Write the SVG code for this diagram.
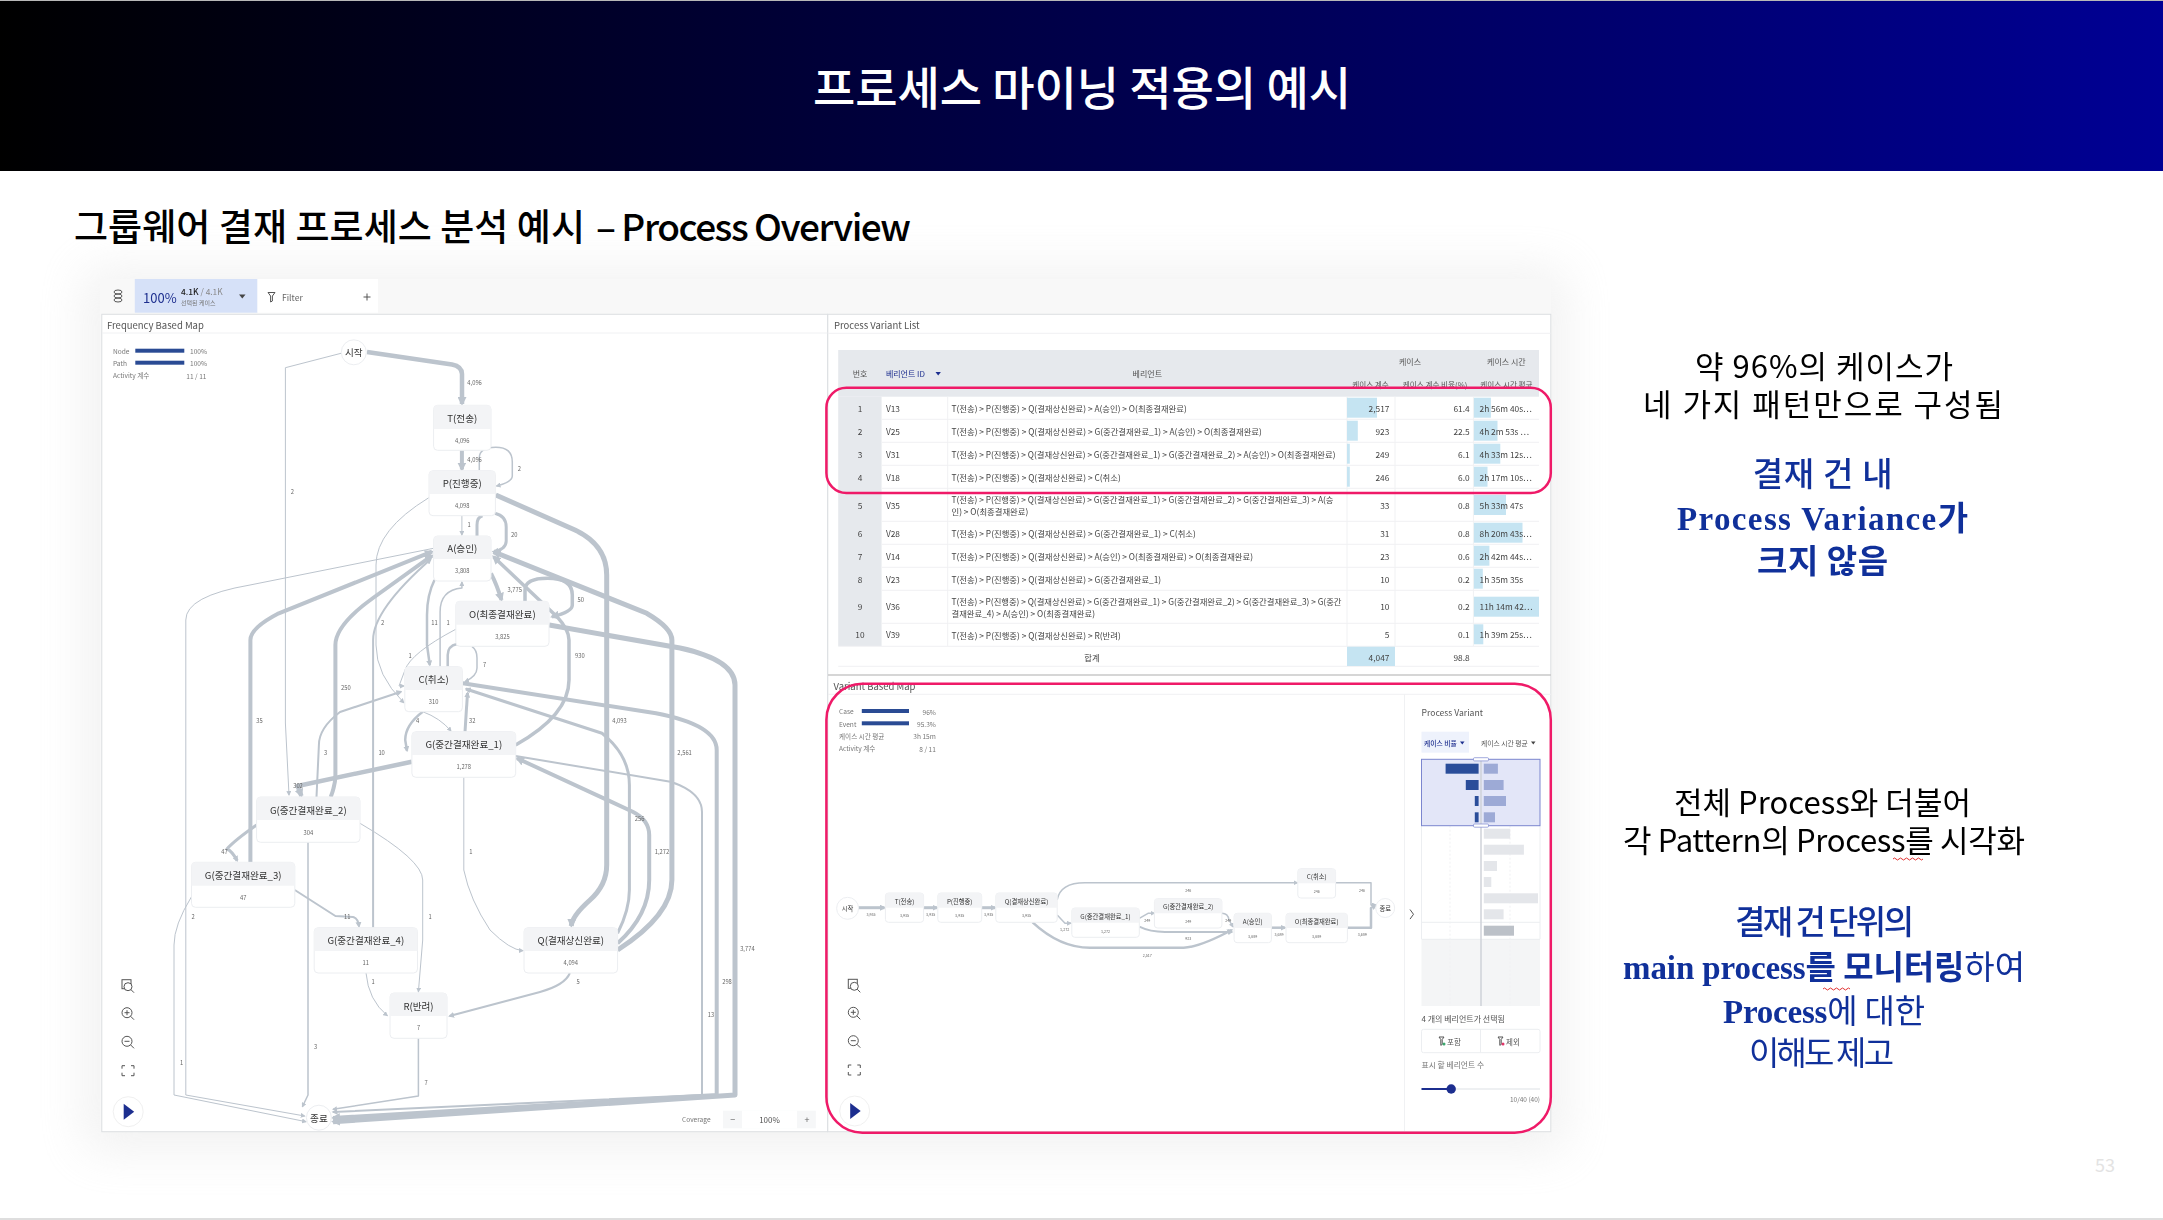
<svg xmlns="http://www.w3.org/2000/svg" width="2163" height="1220" viewBox="0 0 2163 1220">
<style>
text{font-family:"Noto Sans CJK KR","Noto Sans",sans-serif}
.c{dominant-baseline:central}
.m{text-anchor:middle}
.r{text-anchor:end}
.e path{fill:none;stroke:#bcc4cd;stroke-linejoin:round}
.w1{stroke-width:1}.w15{stroke-width:1.5}.w2{stroke-width:2}.w25{stroke-width:2.5}.w3{stroke-width:3}.w35{stroke-width:3.5}.w4{stroke-width:4}.w45{stroke-width:4.5}.w5{stroke-width:5}
.as{marker-end:url(#as)}.am{marker-end:url(#am)}.al{marker-end:url(#al)}
.nb{fill:#fff;stroke:#eceef1;stroke-width:1}
.nh{fill:#f3f4f6}
.nl{font-size:9.6px;fill:#333}
.nc{font-size:5.8px;fill:#666}
.el{font-size:5.8px;fill:#666}
.vl{font-size:6.3px;fill:#333}
.vc{font-size:3.7px;fill:#666}
.lg{font-size:6.6px;fill:#777}
.th{font-size:8px;fill:#555}
.td{font-size:8.35px;fill:#444}
.bar{fill:#c5e4f2}
.sep{stroke:#f0f1f3;stroke-width:1}
.pink{fill:none;stroke:#ef1a68;stroke-width:2.5}
.ic{fill:none;stroke:#555;stroke-width:1}
.blk{font-size:31px;fill:#000}
.blu{font-size:33px;fill:#10309a}
.ser{font-family:"Liberation Serif","Noto Serif",serif;font-weight:700}
.wavy{fill:none;stroke:#e03030;stroke-width:1}
.lb{fill:#2a4d9a}.rb{fill:#9daad6}.gb{fill:#e4e6ea}
.pt{font-size:9.5px;fill:#555}
</style>
<defs>
<linearGradient id="hdr" x1="0" x2="1" y1="0" y2="0"><stop offset="0" stop-color="#000"/><stop offset="1" stop-color="#000094"/></linearGradient>
<filter id="soft" filterUnits="userSpaceOnUse" x="0" y="0" width="2163" height="1220"><feGaussianBlur stdDeviation="0.4"/></filter>
<filter id="glow" filterUnits="userSpaceOnUse" x="0" y="150" width="2163" height="1070"><feGaussianBlur stdDeviation="24"/></filter>
<marker id="as" markerUnits="userSpaceOnUse" markerWidth="5" markerHeight="5" refX="4" refY="2.5" orient="auto"><path d="M0,0L5,2.5L0,5z" fill="#bcc4cd"/></marker>
<marker id="am" markerUnits="userSpaceOnUse" markerWidth="6" markerHeight="6" refX="4.5" refY="3" orient="auto"><path d="M0,0L6,3L0,6z" fill="#bcc4cd"/></marker>
<marker id="al" markerUnits="userSpaceOnUse" markerWidth="9" markerHeight="9" refX="7" refY="4.5" orient="auto"><path d="M0,0L9,4.5L0,9z" fill="#bcc4cd"/></marker>
<g id="i-fit"><rect class="ic" x="-6" y="-6" width="9" height="9"/><circle cx="0" cy="1" r="4" fill="#fff" stroke="#555"/><path class="ic" d="M3,4L6,7"/></g>
<g id="i-in"><circle class="ic" cx="-1" cy="-1" r="5"/><path class="ic" d="M-3.5,-1H1.5M-1,-3.5V1.5M2.5,2.5L6,6"/></g>
<g id="i-out"><circle class="ic" cx="-1" cy="-1" r="5"/><path class="ic" d="M-3.5,-1H1.5M2.5,2.5L6,6"/></g>
<g id="i-full"><path class="ic" d="M-6,-2V-5H-3M3,-5H6V-2M6,2V5H3M-3,5H-6V2"/></g>
<g id="i-play"><circle r="15" fill="#fff" stroke="#f0f0f0"/><path d="M-4.5,-8L6,0L-4.5,8z" fill="#1e2f8f"/></g>
</defs>

<rect width="2163" height="1220" fill="#fff"/>
<rect x="0" y="0" width="2163" height="171" fill="url(#hdr)"/>
<rect x="0" y="0" width="2163" height="1" fill="#b8b8b8"/>
<rect x="0" y="1218" width="2163" height="2" fill="#dedede"/>
<rect x="85" y="270" width="1480" height="880" fill="#d8d8d8" opacity=".35" filter="url(#glow)"/>

<text id="title" x="813" y="105" font-size="46" font-weight="500" fill="#fff" textLength="538">프로세스 마이닝 적용의 예시</text>
<g id="subtitle">
<text x="74" y="241" font-size="37" font-weight="500" fill="#000" textLength="511">그룹웨어 결재 프로세스 분석 예시</text>
<text x="596" y="241" font-size="37" font-weight="500" fill="#000" textLength="314" letter-spacing="-1">– Process Overview</text>
</g>
<text id="page" x="2095" y="1172" font-size="18" fill="#e3e3e3" font-family="Liberation Sans">53</text>

<g id="screenshot" filter="url(#soft)">
<rect x="100" y="279" width="1451" height="853" fill="#f8f8f8"/>
<rect x="134.8" y="279" width="122.7" height="33.7" fill="#d6e1f8"/>
<rect x="257.5" y="279" width="120.5" height="33.7" fill="#fff"/>
<rect x="101.8" y="314.3" width="725.8" height="817.4" fill="#fff" stroke="#dcdfe2"/>
<rect x="827.8" y="314.3" width="723" height="817.4" fill="#fff" stroke="#dcdfe2"/>
<path d="M102,333H827.5M828,333.3H1550.5" stroke="#f0f1f3"/>
<path d="M828,675H1551" stroke="#c8c8c8" stroke-width="1.5"/>

<g id="toolbar">
<g class="ic"><ellipse cx="118" cy="292" rx="4" ry="2"/><ellipse cx="118" cy="296" rx="4" ry="2"/><ellipse cx="118" cy="300" rx="4" ry="2"/></g>
<text class="c" x="143" y="297" font-size="13" fill="#1e2f8f">100%</text>
<text class="c" x="181" y="291" font-size="8.4" fill="#222" font-weight="500">4.1K<tspan fill="#888" font-weight="400"> / 4.1K</tspan></text>
<text class="c" x="181" y="302" font-size="6" fill="#777">선택된 케이스</text>
<path d="M239,294.5h6.5l-3.2,4z" fill="#444"/>
<path class="ic" d="M268,292.5h7l-2.6,3.5v5l-1.8,1v-6z"/>
<text class="c" x="282" y="297" font-size="8.6" fill="#666">Filter</text>
<path class="ic" d="M363.500,297h7M367,293.500v7"/>
</g>

<text class="c pt" x="107" y="325">Frequency Based Map</text>
<g id="legend-freq">
<text class="c lg" x="113" y="350.700">Node</text><rect x="135.300" y="348.700" width="49" height="4" fill="#2c4c94"/><text class="c lg" x="190" y="351">100%</text>
<text class="c lg" x="113" y="362.700">Path</text><rect x="135.300" y="360.700" width="49" height="4" fill="#2c4c94"/><text class="c lg" x="190" y="363">100%</text>
<text class="c lg" x="113" y="375">Activity 계수</text><text class="c lg" x="186.300" y="376">11 / 11</text>
</g>

<g id="connectors-freq" class="e">
<path class="w45 al" d="M367,352 L452,364.500 Q462,366.500 462,374 V404"/>
<path class="w1 as" d="M341,353.300 L285.400,367.700 V723 L289,795"/>
<path class="w4 al" d="M461.900,450.300 V469.500"/>
<path class="w15 as" d="M479.300,470 V458 Q479.300,447.300 495.800,447.300 Q512.300,447.300 512.300,462 V476 Q512.300,482 496.500,486"/>
<path class="w1 as" d="M461.900,515.700 V535"/>
<path class="w3" d="M477,536 V525 Q477,517 482.600,515.700"/>
<path class="w3 am" d="M494.900,513.300 Q506.200,516 506.200,527 V541 Q506.200,549 494,551.700"/>
<path class="w5 al" d="M495.800,495 L575,530 Q606.700,545 606.700,575 V865 Q606.700,885 590,900 Q572,916 571.300,926"/>
<path class="w1 as" d="M428.800,497.700 Q376,530 376,565 V645 Q376,675 403.800,702.700"/>
<path class="w2 am" d="M373.100,927.700 V640 Q373.100,610 430.700,559.300"/>
<path class="w1 as" d="M433.500,548.300 L250,585 Q185.800,596 185.800,620 V1095 L304.700,1116"/>
<path class="w1 as" d="M191.500,896.700 Q174,925 174,945 V1095 L306,1121.700"/>
<path class="w4 al" d="M250.400,862.300 V640 Q250.400,628 278.800,613.300 L432,551.700"/>
<path class="w4 al" d="M330.700,797 Q335.400,785 335.400,775 V645 Q335.400,625 373,598 L432,555.700"/>
<path class="w2 am" d="M316.500,797 L318.900,745 Q318.900,728 340,712 L401,691.700"/>
<path class="w1 as" d="M455.700,629.300 Q410.900,653 405,670 L399,686 L404,686"/>
<path class="w25 am" d="M434.500,580 Q427,595 427,615 V645 L429.800,665"/>
<path class="w15 as" d="M440.100,666.700 V612 Q440.100,590 461.900,588 V582"/>
<path class="w4 al" d="M491,573.300 Q497,585 501.500,600"/>
<path class="w35 al" d="M525,601.300 V590 Q525,578.300 547.700,578.300 Q572.300,578.300 572.300,595 V605 Q572.300,612 552,616.700"/>
<path class="w35 al" d="M515.600,745 Q569,715 569,680 V640 Q569,630 557,616.700 L493.500,556.700"/>
<path class="w5 al" d="M617.600,950 Q671.900,915 671.900,880 V640 Q671.900,628 646.800,613.300 L493.500,551.700"/>
<path class="w5 al" d="M549.200,625 L680,648 Q735,660 735,685 V1095 L333,1121.700"/>
<path class="w4 al" d="M462.800,683.300 L656,713.300 Q716.700,725 716.700,750 V1095 L333,1118"/>
<path class="w2 am" d="M515.600,756 L670.400,781.700 Q702,792 702,812 V1095 L333,1112"/>
<path class="w3 am" d="M617.600,933.300 Q629.400,910 629.400,890 V785 Q629.400,755 602,733.300 L466,689"/>
<path class="w4 al" d="M617.600,943.300 Q649.200,915 649.200,880 V835 Q649.200,820 632.700,811.700 L517,758.300"/>
<path class="w25 am" d="M422.700,711.700 Q405.200,725 405.200,740 L407,750.700"/>
<path class="w1 as" d="M422.700,711.700 Q440,718 451,731"/>
<path class="w3 am" d="M465,731.700 L467.500,693"/>
<path class="w45 al" d="M411.800,761.700 L297.600,786 L301.400,796"/>
<path class="w3 am" d="M256.600,825 Q235,840 226.900,849 Q232,851 237.200,860.700"/>
<path class="w2 am" d="M294.800,890 L335.400,916 L353,917 Q358,918 359,926.500"/>
<path class="w1 as" d="M360,823.300 Q422.700,860 422.700,880 V940 L418.400,991.700"/>
<path class="w1 as" d="M366,973 Q368.400,1000 387.300,1015.700"/>
<path class="w2 am" d="M569.900,973 Q565,985 540,992 L449.600,1016"/>
<path class="w15 as" d="M418.400,1038.300 V1096 L333,1109.300"/>
<path class="w15 as" d="M308,842.300 V1095 L302.400,1106.700"/>
<path class="w1 as" d="M463.800,777.300 V870 Q470,900 490,930 Q510,950 523,950.700"/>
<path class="w25" d="M447.700,666.700 V655 Q447.700,646 457,644"/>
<path class="w15 as" d="M472,646.700 Q477,650 477,658 V668 Q477,676 465,681.700"/>
</g>

<g id="edge-labels-freq" class="m">
<text class="c el m" x="474.600" y="382.300">4,096</text><text class="c el m" x="292.400" y="491.700">2</text>
<text class="c el m" x="474.600" y="459">4,096</text><text class="c el m" x="519.400" y="468.700">2</text>
<text class="c el m" x="469" y="524.300">1</text><text class="c el m" x="514.200" y="534.300">20</text>
<text class="c el m" x="514.700" y="589.700">3,775</text><text class="c el m" x="580.800" y="599.300">50</text>
<text class="c el m" x="382.600" y="622.700">2</text><text class="c el m" x="434.500" y="622.700">11</text><text class="c el m" x="448.200" y="622.700">1</text>
<text class="c el m" x="410" y="655">1</text><text class="c el m" x="579.800" y="655">930</text><text class="c el m" x="484.500" y="664.700">7</text>
<text class="c el m" x="345.800" y="687.700">250</text><text class="c el m" x="259.500" y="720.300">35</text>
<text class="c el m" x="417.500" y="720.300">4</text><text class="c el m" x="472.200" y="720.300">32</text><text class="c el m" x="619.500" y="720.300">4,093</text>
<text class="c el m" x="325.500" y="752.700">3</text><text class="c el m" x="381.600" y="752.700">10</text><text class="c el m" x="684.600" y="752.700">2,561</text>
<text class="c el m" x="298" y="785.700">302</text><text class="c el m" x="639.700" y="818">256</text>
<text class="c el m" x="224.500" y="851">47</text><text class="c el m" x="470.800" y="851">1</text><text class="c el m" x="662" y="851">1,272</text>
<text class="c el m" x="193" y="916.300">2</text><text class="c el m" x="347.200" y="916.700">11</text><text class="c el m" x="430.200" y="916.300">1</text>
<text class="c el m" x="747.400" y="948.700">3,774</text><text class="c el m" x="373" y="981.700">1</text><text class="c el m" x="578" y="981.700">5</text><text class="c el m" x="727" y="981.700">298</text>
<text class="c el m" x="711" y="1014">13</text><text class="c el m" x="315.600" y="1046.700">3</text><text class="c el m" x="426" y="1082.300">7</text><text class="c el m" x="181.600" y="1062.700">1</text>
</g>

<g id="n-start"><circle class="nb" cx="353.800" cy="352.300" r="12.500"/><text class="c nl m" x="353.800" y="352.300">시작</text></g>
<g id="n-T"><rect class="nb" x="433.600" y="405.300" width="57.400" height="45" rx="4"/><path class="nh" d="M433.600,429V409.300Q433.600,405.300 437.600,405.300H487Q491,405.300 491,409.300V429Z"/><text class="c nl m" x="462.300" y="417.700">T(전송)</text><text class="c nc m" x="462.300" y="440">4,096</text></g>
<g id="n-P"><rect class="nb" x="429" y="470.700" width="66.400" height="45" rx="4"/><path class="nh" d="M429,494V474.700Q429,470.700 433,470.700H491.400Q495.400,470.700 495.400,474.700V494Z"/><text class="c nl m" x="462.200" y="483">P(진행중)</text><text class="c nc m" x="462.200" y="505.300">4,098</text></g>
<g id="n-A"><rect class="nb" x="433.600" y="536" width="57.400" height="45" rx="4"/><path class="nh" d="M433.600,559V540Q433.600,536 437.600,536H487Q491,536 491,540V559Z"/><text class="c nl m" x="462.300" y="548.300">A(승인)</text><text class="c nc m" x="462.300" y="570.700">3,808</text></g>
<g id="n-O"><rect class="nb" x="455.800" y="601.300" width="93.200" height="45" rx="4"/><path class="nh" d="M455.800,624.700V605.300Q455.800,601.300 459.800,601.300H545Q549,601.300 549,605.300V624.700Z"/><text class="c nl m" x="502.400" y="613.700">O(최종결재완료)</text><text class="c nc m" x="502.400" y="636">3,825</text></g>
<g id="n-C"><rect class="nb" x="404.800" y="666.700" width="57.600" height="45" rx="4"/><path class="nh" d="M404.800,690V670.700Q404.800,666.700 408.800,666.700H458.400Q462.400,666.700 462.400,670.700V690Z"/><text class="c nl m" x="433.600" y="679">C(취소)</text><text class="c nc m" x="433.600" y="701.300">310</text></g>
<g id="n-G1"><rect class="nb" x="411.900" y="731.700" width="103.800" height="45.600" rx="4"/><path class="nh" d="M411.900,755V735.700Q411.900,731.700 415.900,731.700H511.700Q515.700,731.700 515.700,735.700V755Z"/><text class="c nl m" x="463.800" y="744.300">G(중간결재완료_1)</text><text class="c nc m" x="463.800" y="766.700">1,278</text></g>
<g id="n-G2"><rect class="nb" x="256.600" y="797" width="103.400" height="45.300" rx="4"/><path class="nh" d="M256.600,820V801Q256.600,797 260.600,797H356Q360,797 360,801V820Z"/><text class="c nl m" x="308.300" y="809.700">G(중간결재완료_2)</text><text class="c nc m" x="308.300" y="832">304</text></g>
<g id="n-G3"><rect class="nb" x="191.500" y="862.300" width="103.300" height="45" rx="4"/><path class="nh" d="M191.500,885.700V866.300Q191.500,862.300 195.500,862.300H290.800Q294.800,862.300 294.800,866.300V885.700Z"/><text class="c nl m" x="243.200" y="875">G(중간결재완료_3)</text><text class="c nc m" x="243.200" y="897">47</text></g>
<g id="n-G4"><rect class="nb" x="314.200" y="927.700" width="103.300" height="45.300" rx="4"/><path class="nh" d="M314.200,951V931.700Q314.200,927.700 318.200,927.700H413.500Q417.500,927.700 417.500,931.700V951Z"/><text class="c nl m" x="365.800" y="940.300">G(중간결재완료_4)</text><text class="c nc m" x="365.800" y="962.700">11</text></g>
<g id="n-Q"><rect class="nb" x="524" y="927.700" width="93.600" height="45.300" rx="4"/><path class="nh" d="M524,951V931.700Q524,927.700 528,927.700H613.600Q617.600,927.700 617.600,931.700V951Z"/><text class="c nl m" x="570.800" y="940.300">Q(결재상신완료)</text><text class="c nc m" x="570.800" y="962.700">4,094</text></g>
<g id="n-R"><rect class="nb" x="390" y="993" width="57" height="45.300" rx="4"/><path class="nh" d="M390,1016V997Q390,993 394,993H443Q447,993 447,997V1016Z"/><text class="c nl m" x="418.500" y="1005.700">R(반려)</text><text class="c nc m" x="418.500" y="1027.700">7</text></g>
<g id="n-end"><circle class="nb" cx="318.900" cy="1117.700" r="12.500"/><text class="c nl m" x="318.900" y="1117.700">종료</text></g>

<g id="tools-freq"><use href="#i-fit" x="128" y="985.700"/><use href="#i-in" x="128" y="1013.700"/><use href="#i-out" x="128" y="1042.300"/><use href="#i-full" x="128" y="1070.700"/><use href="#i-play" x="128.200" y="1111.700"/></g>
<g id="coverage">
<text class="c lg" x="682" y="1119">Coverage</text>
<rect x="723" y="1110.700" width="92.800" height="17.600" fill="#f6f7f8"/><rect x="742" y="1110.700" width="55" height="17.600" fill="#fff"/>
<text class="c m" x="732.700" y="1119" font-size="9" fill="#666">−</text>
<text class="c m" x="769.500" y="1119" font-size="8" fill="#555">100%</text>
<text class="c m" x="807" y="1119" font-size="9" fill="#666">+</text>
</g>

<text class="c pt" x="834" y="325">Process Variant List</text>
<g id="variant-table">
<rect x="838.200" y="350" width="700.800" height="46.700" fill="#e6e9ed"/>
<rect x="838.200" y="396.700" width="43.400" height="249.300" fill="#e6e9ed"/>
<path class="sep" d="M881.600,419.300H1539M881.600,442.300H1539M881.600,465.300H1539M881.600,488.300H1539M881.600,521.300H1539M881.600,544.300H1539M881.600,567.300H1539M881.600,590.300H1539M881.600,623.300H1539M838.200,646.300H1539M838.200,666.300H1539M947.700,396.700V646M1347,396.700V646M1395,396.700V646M1473.400,396.700V646"/>
<g id="table-bars">
<rect class="bar" x="1347" y="397.700" width="30" height="20"/><rect class="bar" x="1347" y="420.700" width="10.800" height="20"/><rect class="bar" x="1347" y="443.700" width="2.800" height="20"/><rect class="bar" x="1347" y="466.700" width="2.800" height="20"/>
<rect class="bar" x="1347" y="646.700" width="48" height="19.300"/>
<rect class="bar" x="1473.900" y="397.700" width="17" height="20"/><rect class="bar" x="1473.900" y="420.700" width="23.600" height="20"/><rect class="bar" x="1473.900" y="443.700" width="26.400" height="20"/><rect class="bar" x="1473.900" y="466.700" width="13.600" height="20"/>
<rect class="bar" x="1473.900" y="495" width="32.100" height="20"/><rect class="bar" x="1473.900" y="522.700" width="48.600" height="20"/><rect class="bar" x="1473.900" y="545.700" width="15.500" height="20"/><rect class="bar" x="1473.900" y="568.700" width="8.900" height="20"/><rect class="bar" x="1473.900" y="596.700" width="65.100" height="20"/><rect class="bar" x="1473.900" y="624.300" width="9.400" height="20"/>
</g>
<g id="table-head">
<text class="c th m" x="860" y="373">번호</text><text class="c th" x="885.900" y="373" style="fill:#1e2f8f">베리언트 ID</text><path d="M935.500,372h5.400l-2.700,3.500z" fill="#1e2f8f"/>
<text class="c th m" x="1147.300" y="373">베리언트</text><text class="c th m" x="1410" y="361.700">케이스</text><text class="c th m" x="1506.400" y="361.700">케이스 시간</text>
<text class="c th m" x="1370.500" y="384" font-size="7.6" style="font-size:7.6px">케이스 계수</text><text class="c th m" x="1435" y="384" style="font-size:7.6px">케이스 계수 비율(%)</text><text class="c th m" x="1506.400" y="384" style="font-size:7.6px">케이스 시간 평균</text>
</g>
<g id="table-rows">
<text class="c td m" x="860" y="407.700">1</text><text class="c td" x="885.900" y="407.700">V13</text><text class="c td" x="951.500" y="408">T(전송) &gt; P(진행중) &gt; Q(결재상신완료) &gt; A(승인) &gt; O(최종결재완료)</text><text class="c td r" x="1389.400" y="407.700">2,517</text><text class="c td r" x="1469.600" y="407.700">61.4</text><text class="c td" x="1479.500" y="407.700">2h 56m 40s⋯</text>
<text class="c td m" x="860" y="430.700">2</text><text class="c td" x="885.900" y="430.700">V25</text><text class="c td" x="951.500" y="431">T(전송) &gt; P(진행중) &gt; Q(결재상신완료) &gt; G(중간결재완료_1) &gt; A(승인) &gt; O(최종결재완료)</text><text class="c td r" x="1389.400" y="430.700">923</text><text class="c td r" x="1469.600" y="430.700">22.5</text><text class="c td" x="1479.500" y="430.700">4h 2m 53s ⋯</text>
<text class="c td m" x="860" y="453.700">3</text><text class="c td" x="885.900" y="453.700">V31</text><text class="c td" x="951.500" y="454" textLength="384">T(전송) &gt; P(진행중) &gt; Q(결재상신완료) &gt; G(중간결재완료_1) &gt; G(중간결재완료_2) &gt; A(승인) &gt; O(최종결재완료)</text><text class="c td r" x="1389.400" y="453.700">249</text><text class="c td r" x="1469.600" y="453.700">6.1</text><text class="c td" x="1479.500" y="453.700">4h 33m 12s⋯</text>
<text class="c td m" x="860" y="476.700">4</text><text class="c td" x="885.900" y="476.700">V18</text><text class="c td" x="951.500" y="477">T(전송) &gt; P(진행중) &gt; Q(결재상신완료) &gt; C(취소)</text><text class="c td r" x="1389.400" y="476.700">246</text><text class="c td r" x="1469.600" y="476.700">6.0</text><text class="c td" x="1479.500" y="476.700">2h 17m 10s⋯</text>
<text class="c td m" x="860" y="504.700">5</text><text class="c td" x="885.900" y="504.700">V35</text><text class="c td" x="951.500" y="499" textLength="382">T(전송) &gt; P(진행중) &gt; Q(결재상신완료) &gt; G(중간결재완료_1) &gt; G(중간결재완료_2) &gt; G(중간결재완료_3) &gt; A(승</text><text class="c td" x="951.500" y="511.300">인) &gt; O(최종결재완료)</text><text class="c td r" x="1389.400" y="504.700">33</text><text class="c td r" x="1469.600" y="504.700">0.8</text><text class="c td" x="1479.500" y="504.700">5h 33m 47s</text>
<text class="c td m" x="860" y="532.700">6</text><text class="c td" x="885.900" y="532.700">V28</text><text class="c td" x="951.500" y="533">T(전송) &gt; P(진행중) &gt; Q(결재상신완료) &gt; G(중간결재완료_1) &gt; C(취소)</text><text class="c td r" x="1389.400" y="532.700">31</text><text class="c td r" x="1469.600" y="532.700">0.8</text><text class="c td" x="1479.500" y="532.700">8h 20m 43s⋯</text>
<text class="c td m" x="860" y="555.700">7</text><text class="c td" x="885.900" y="555.700">V14</text><text class="c td" x="951.500" y="556">T(전송) &gt; P(진행중) &gt; Q(결재상신완료) &gt; A(승인) &gt; O(최종결재완료) &gt; O(최종결재완료)</text><text class="c td r" x="1389.400" y="555.700">23</text><text class="c td r" x="1469.600" y="555.700">0.6</text><text class="c td" x="1479.500" y="555.700">2h 42m 44s⋯</text>
<text class="c td m" x="860" y="578.700">8</text><text class="c td" x="885.900" y="578.700">V23</text><text class="c td" x="951.500" y="579">T(전송) &gt; P(진행중) &gt; Q(결재상신완료) &gt; G(중간결재완료_1)</text><text class="c td r" x="1389.400" y="578.700">10</text><text class="c td r" x="1469.600" y="578.700">0.2</text><text class="c td" x="1479.500" y="578.700">1h 35m 35s</text>
<text class="c td m" x="860" y="606.300">9</text><text class="c td" x="885.900" y="606.300">V36</text><text class="c td" x="951.500" y="601" textLength="390">T(전송) &gt; P(진행중) &gt; Q(결재상신완료) &gt; G(중간결재완료_1) &gt; G(중간결재완료_2) &gt; G(중간결재완료_3) &gt; G(중간</text><text class="c td" x="951.500" y="613">결재완료_4) &gt; A(승인) &gt; O(최종결재완료)</text><text class="c td r" x="1389.400" y="606.300">10</text><text class="c td r" x="1469.600" y="606.300">0.2</text><text class="c td" x="1479.500" y="606.300">11h 14m 42⋯</text>
<text class="c td m" x="860" y="634.300">10</text><text class="c td" x="885.900" y="634.300">V39</text><text class="c td" x="951.500" y="634.600">T(전송) &gt; P(진행중) &gt; Q(결재상신완료) &gt; R(반려)</text><text class="c td r" x="1389.400" y="634.300">5</text><text class="c td r" x="1469.600" y="634.300">0.1</text><text class="c td" x="1479.500" y="634.300">1h 39m 25s⋯</text>
<text class="c td m" x="1092" y="657.300">합계</text><text class="c td r" x="1389.400" y="657.300">4,047</text><text class="c td r" x="1469.600" y="657.300">98.8</text>
</g>
</g>

<text class="c pt" x="833.500" y="685.700">Variant Based Map</text>
<path d="M828,694.300H1551M1404.500,694.300V1131" stroke="#f0f1f3"/>
<g id="legend-var">
<text class="c lg" x="839" y="711.300">Case</text><rect x="861.800" y="709" width="47.200" height="4" fill="#2c4c94"/><text class="c lg r" x="935.900" y="712">96%</text>
<text class="c lg" x="839" y="723.700">Event</text><rect x="861.800" y="721.300" width="47.200" height="4" fill="#2c4c94"/><text class="c lg r" x="935.900" y="724.300">95.3%</text>
<text class="c lg" x="839" y="735.700">케이스 시간 평균</text><text class="c lg r" x="935.900" y="736.300">3h 15m</text>
<text class="c lg" x="839" y="748">Activity 계수</text><text class="c lg r" x="935.900" y="748.700">8 / 11</text>
</g>

<g id="connectors-var" class="e">
<path class="w3 am" d="M857,907.700H884.500"/>
<path class="w3 am" d="M923.600,907.700H937"/>
<path class="w3 am" d="M981.700,907.700H995"/>
<path class="w15 as" d="M1057.200,900 Q1060,882.700 1085,882.700 H1297.500"/>
<path class="w15 as" d="M1335.600,882.700 H1371 V905 L1376,905"/>
<path class="w15 as" d="M1057.200,915 L1065,923.300 H1071"/>
<path class="w25 am" d="M1032.600,922.300 Q1060,947.700 1090,947.700 H1183.600 Q1200,947 1231.800,930"/>
<path class="w15 as" d="M1139.300,918.300 L1148,913.300 H1154.500"/>
<path class="w2 am" d="M1139.300,926.700 Q1150,932 1165,932 H1232"/>
<path class="w15 as" d="M1221.900,913.300 Q1228,913.300 1229,920 L1233,927"/>
<path class="w25 am" d="M1271.400,927.700H1285"/>
<path class="w25 am" d="M1347.400,927.700 H1371 V908 L1376,905"/>
</g>
<g id="edge-labels-var">
<text class="c vc m" x="871" y="914.300">3,935</text><text class="c vc m" x="930.700" y="914.300">3,935</text><text class="c vc m" x="988.700" y="914.300">3,935</text><text class="c vc m" x="1064.700" y="929.300">1,272</text>
<text class="c vc m" x="1188.300" y="890">246</text><text class="c vc m" x="1362" y="890">246</text><text class="c vc m" x="1147.300" y="920">249</text><text class="c vc m" x="1228.300" y="920">249</text>
<text class="c vc m" x="1188.300" y="938.300">923</text><text class="c vc m" x="1279" y="934.700">3,689</text><text class="c vc m" x="1362.300" y="934.700">3,689</text><text class="c vc m" x="1147.300" y="955">2,517</text>
</g>
<g id="v-start"><circle class="nb" cx="847.600" cy="908.300" r="11"/><text class="c vl m" x="847.600" y="908.300">시작</text></g>
<g id="v-T"><rect class="nb" x="885.400" y="893" width="38.200" height="29.300" rx="3"/><path class="nh" d="M885.400,907.700V896Q885.400,893 888.400,893H920.600Q923.600,893 923.600,896V907.700Z"/><text class="c vl m" x="904.500" y="901">T(전송)</text><text class="c vc m" x="904.500" y="915.700">3,935</text></g>
<g id="v-P"><rect class="nb" x="937.800" y="893" width="43.900" height="29.300" rx="3"/><path class="nh" d="M937.800,907.700V896Q937.800,893 940.800,893H978.700Q981.700,893 981.700,896V907.700Z"/><text class="c vl m" x="959.700" y="901">P(진행중)</text><text class="c vc m" x="959.700" y="915.700">3,935</text></g>
<g id="v-Q"><rect class="nb" x="995.800" y="893" width="61.400" height="29.300" rx="3"/><path class="nh" d="M995.800,907.700V896Q995.800,893 998.800,893H1054.200Q1057.200,893 1057.200,896V907.700Z"/><text class="c vl m" x="1026.500" y="901">Q(결재상신완료)</text><text class="c vc m" x="1026.500" y="915.700">3,935</text></g>
<g id="v-G1"><rect class="nb" x="1071.800" y="908" width="67.500" height="29.300" rx="3"/><path class="nh" d="M1071.800,922.700V911Q1071.800,908 1074.800,908H1136.300Q1139.300,908 1139.300,911V922.700Z"/><text class="c vl m" x="1105.500" y="916">G(중간결재완료_1)</text><text class="c vc m" x="1105.500" y="931">1,272</text></g>
<g id="v-G2"><rect class="nb" x="1154.400" y="898.700" width="67.500" height="29.300" rx="3"/><path class="nh" d="M1154.400,913.300V901.700Q1154.400,898.700 1157.400,898.700H1218.900Q1221.900,898.700 1221.900,901.700V913.300Z"/><text class="c vl m" x="1188.200" y="906.700">G(중간결재완료_2)</text><text class="c vc m" x="1188.200" y="921.300">249</text></g>
<g id="v-A"><rect class="nb" x="1234.100" y="913.300" width="37.300" height="29.400" rx="3"/><path class="nh" d="M1234.100,928V916.300Q1234.100,913.300 1237.100,913.300H1268.400Q1271.400,913.300 1271.400,916.300V928Z"/><text class="c vl m" x="1252.700" y="921.300">A(승인)</text><text class="c vc m" x="1252.700" y="936">3,689</text></g>
<g id="v-O"><rect class="nb" x="1286" y="913.300" width="61.400" height="29.400" rx="3"/><path class="nh" d="M1286,928V916.300Q1286,913.300 1289,913.300H1344.400Q1347.400,913.300 1347.400,916.300V928Z"/><text class="c vl m" x="1316.700" y="921.300">O(최종결재완료)</text><text class="c vc m" x="1316.700" y="936">3,689</text></g>
<g id="v-C"><rect class="nb" x="1297.800" y="868.700" width="37.800" height="29.300" rx="3"/><path class="nh" d="M1297.800,883.300V871.700Q1297.800,868.700 1300.800,868.700H1332.600Q1335.600,868.700 1335.600,871.700V883.300Z"/><text class="c vl m" x="1316.700" y="876.700">C(취소)</text><text class="c vc m" x="1316.700" y="891.300">246</text></g>
<g id="v-end"><circle class="nb" cx="1385.200" cy="908" r="9.500"/><text class="c vl m" x="1385.200" y="908">종료</text></g>
<g id="tools-var"><use href="#i-fit" x="854.300" y="985.300"/><use href="#i-in" x="854.300" y="1013.300"/><use href="#i-out" x="854.300" y="1041.700"/><use href="#i-full" x="854.300" y="1070"/><use href="#i-play" x="854.700" y="1111"/></g>

<g id="variant-side">
<path class="ic" d="M1410,909.500l3.500,4.800l-3.500,4.800" stroke="#777"/>
<text class="c" x="1421.500" y="712.300" font-size="8.600" fill="#555">Process Variant</text>
<rect x="1421.500" y="731.700" width="47.500" height="21" fill="#eef2fc"/>
<text class="c" x="1424" y="743" font-size="6.800" fill="#1e2f8f" font-weight="500">케이스 비율</text><path d="M1460,741.500h4.500l-2.200,3z" fill="#1e2f8f"/>
<text class="c" x="1481" y="743" font-size="6.800" fill="#555">케이스 시간 평균</text><path d="M1531,741.500h4.500l-2.200,3z" fill="#444"/>
<rect x="1421.500" y="759.300" width="118.500" height="66.400" fill="#e3e6f8"/>
<rect x="1421.500" y="939.300" width="118.500" height="66.700" fill="#f4f5f6"/>
<path d="M1421.500,922.300H1540M1421.500,939.300H1540M1421.500,825.700V939M1540,825.700V939" stroke="#eceef1"/>
<path d="M1450,825.700V1006M1510,825.700V1006" stroke="#f0f1f3" stroke-dasharray="2 2"/>
<rect class="lb" x="1445.600" y="763.700" width="33" height="10"/><rect class="lb" x="1465.800" y="780" width="12.800" height="10"/><rect class="lb" x="1474.800" y="796" width="3.800" height="10"/><rect class="lb" x="1474.800" y="812.300" width="3.800" height="10"/>
<rect class="rb" x="1483.800" y="763.700" width="14.100" height="10"/><rect class="rb" x="1483.800" y="780" width="19.800" height="10"/><rect class="rb" x="1483.800" y="796" width="22.200" height="10"/><rect class="rb" x="1483.800" y="812.300" width="11.200" height="10"/>
<rect class="gb" x="1483.800" y="828.700" width="26.400" height="10"/><rect class="gb" x="1483.800" y="844.700" width="40.100" height="10"/><rect class="gb" x="1483.800" y="861" width="13.200" height="10"/><rect class="gb" x="1483.800" y="877" width="7.500" height="10"/><rect class="gb" x="1483.800" y="893.300" width="54.200" height="10"/><rect class="gb" x="1483.800" y="909.300" width="19.800" height="10"/><rect x="1483.800" y="925.700" width="30.200" height="10" fill="#bcc1c8"/>
<rect x="1421.500" y="759.300" width="118.500" height="66.400" fill="none" stroke="#7b86cf" stroke-width="1"/>
<path d="M1481,759.300V1006" stroke="#cfd2d8" stroke-width="1.500"/>
<rect x="1473.500" y="757.700" width="15" height="3.200" rx="1" fill="#fff" stroke="#7b86cf" stroke-width=".7"/><rect x="1473.500" y="824" width="15" height="3.200" rx="1" fill="#fff" stroke="#7b86cf" stroke-width=".7"/>
<text class="c" x="1421.500" y="1018" font-size="8" fill="#555">4 개의 베리언트가 선택됨</text>
<rect x="1421.500" y="1029.300" width="118.500" height="23.400" rx="2" fill="#fff" stroke="#eceef1"/><path d="M1480.500,1029.300V1052.700" stroke="#eceef1"/>
<path class="ic" d="M1439,1037h5l-1.800,2.500v5l-1.400,.8v-5.800z"/><circle cx="1444" cy="1044" r="1.500" fill="#3aa76d"/><text class="c" x="1447" y="1041" font-size="7.500" fill="#555">포함</text>
<path class="ic" d="M1498,1037h5l-1.800,2.500v5l-1.400,.8v-5.800z"/><circle cx="1503" cy="1044" r="1.500" fill="#e0356a"/><text class="c" x="1506" y="1041" font-size="7.500" fill="#555">제외</text>
<text class="c" x="1421.500" y="1064.300" font-size="7.800" fill="#777">표시 할 베리언트 수</text>
<path d="M1421.500,1089H1540" stroke="#eef0f2" stroke-width="2"/><path d="M1421.500,1089H1451.200" stroke="#1e2f8f" stroke-width="2"/><circle cx="1451.200" cy="1089" r="4.700" fill="#1e2f8f"/>
<text class="c r" x="1540" y="1099.300" font-size="6.500" fill="#777">10/40 (40)</text>
</g>
</g>

<rect id="highlight-top" class="pink" x="826.400" y="387.700" width="724.400" height="105.300" rx="20"/>
<rect id="highlight-bottom" class="pink" x="826.400" y="683.700" width="724.400" height="449" rx="36"/>

<g id="notes">
<text class="blk" x="1695" y="378" textLength="258">약 96%의 케이스가</text>
<text class="blk" x="1643" y="416" textLength="360">네 가지 패턴만으로 구성됨</text>
<text class="blu" x="1752.700" y="486" textLength="140" font-weight="500">결재 건 내</text>
<text class="blu ser" x="1677" y="530" textLength="291">Process Variance<tspan font-family="Noto Sans CJK KR">가</tspan></text>
<text class="blu" x="1757" y="573" textLength="131" font-weight="700">크지 않음</text>
<text class="blk" x="1674" y="814" textLength="297">전체 Process와 더불어</text>
<text class="blk" x="1623" y="852" textLength="402">각 Pattern의 Process를 시각화</text>
<text class="blu" x="1735" y="934" textLength="178" font-weight="500" letter-spacing="-1">결재 건 단위의</text>
<text class="blu" x="1623" y="979" textLength="401" letter-spacing="-1"><tspan class="ser">main process</tspan><tspan font-weight="700">를 모니터링</tspan><tspan>하여</tspan></text>
<text class="blu" x="1723" y="1023" textLength="202"><tspan class="ser">Process</tspan><tspan>에 대한</tspan></text>
<text class="blu" x="1749" y="1065" textLength="145">이해도 제고</text>
<path class="wavy" d="M1893,859q1.500,-2 3,0t3,0t3,0t3,0t3,0t3,0t3,0t3,0t3,0t3,0"/>
<path class="wavy" d="M1823,989q1.500,-2 3,0t3,0t3,0t3,0t3,0t3,0t3,0t3,0t3,0"/>
</g>
</svg>
